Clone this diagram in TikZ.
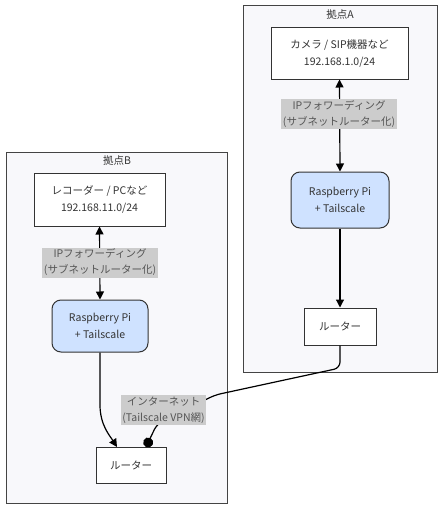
\documentclass[tikz,border=0pt]{standalone}
\usepackage{fontspec}
\setmainfont{Noto Sans CJK JP}
\usetikzlibrary{arrows.meta}
\definecolor{clfill}{HTML}{F8F8FB}
\definecolor{clline}{HTML}{444444}
\definecolor{pifill}{HTML}{CFE2FF}
\definecolor{lblfill}{HTML}{CCCCCC}
\definecolor{lbltext}{HTML}{555555}
\definecolor{txt}{HTML}{333333}
\begin{document}
\begin{tikzpicture}[x=1pt,y=-1pt,
  cluster/.style={draw=clline, line width=1pt, fill=clfill},
  ctitle/.style={font=\fontsize{10.5}{12}\selectfont, text=txt},
  box/.style={draw=txt, line width=1pt, fill=white, align=center, text=txt,
    font=\fontsize{10.5}{17}\selectfont, inner sep=0pt},
  pibox/.style={box, fill=pifill, rounded corners=9pt},
  lbl/.style={fill=lblfill, text=lbltext, align=center, inner sep=1.5pt,
    font=\fontsize{10.5}{16}\selectfont},
  conn/.style={draw=black, line width=1.2pt},
  arr/.style={conn, -{Triangle[length=8pt,width=8pt]}},
  barr/.style={conn, {Triangle[length=8pt,width=8pt]}-{Triangle[length=8pt,width=8pt]}},
  carr/.style={conn, -{Circle[length=10pt]}}
]
\path[use as bounding box] (0,0) rectangle (444,511);
% cluster A
\draw[cluster] (243,6) rectangle (437,372);
\node[ctitle] (tA) at (340,15) {拠点A};
\node[box, minimum width=137pt, minimum height=51pt] (a1) at (339.5,53.5) {カメラ / SIP機器など\\192.168.1.0/24};
\node[pibox, minimum width=98pt, minimum height=56pt] (piA) at (340,200) {Raspberry Pi\\+ Tailscale};
\node[box, minimum width=72pt, minimum height=37pt] (rA) at (340,326.5) {ルーター};
% cluster B
\draw[cluster] (6,152) rectangle (227,503);
\node[ctitle] (tB) at (117,161) {拠点B};
\node[box, minimum width=131pt, minimum height=53pt] (b1) at (99.5,199.5) {レコーダー / PCなど\\192.168.11.0/24};
\node[pibox, minimum width=96pt, minimum height=52pt] (piB) at (100,326) {Raspberry Pi\\+ Tailscale};
\node[box, minimum width=70pt, minimum height=36pt] (rB) at (131,465) {ルーター};
% edges
\draw[barr] (a1.south) -- (piA.north);
\node[lbl] (lA) at (339,114) {IPフォワーディング\\(サブネットルーター化)};
\draw[barr] (b1.south) -- (piB.north);
\node[lbl] (lB) at (100,262.5) {IPフォワーディング\\(サブネットルーター化)};
\draw[arr] (piA.south) -- (rA.north);
\coordinate (rBin) at (117,447);
\draw[arr] (piB.south) -- (100,405) .. controls (100,425) and (110,436) .. (rBin);
\coordinate (rBc) at (146,447);
\draw[carr, rounded corners=6pt] (rA.south) -- (340,368) -- (215,395) -- (157,424) -- (rBc);
\node[lbl] (lI) at (163.5,410) {インターネット\\(Tailscale VPN網)};
\end{tikzpicture}
\end{document}
